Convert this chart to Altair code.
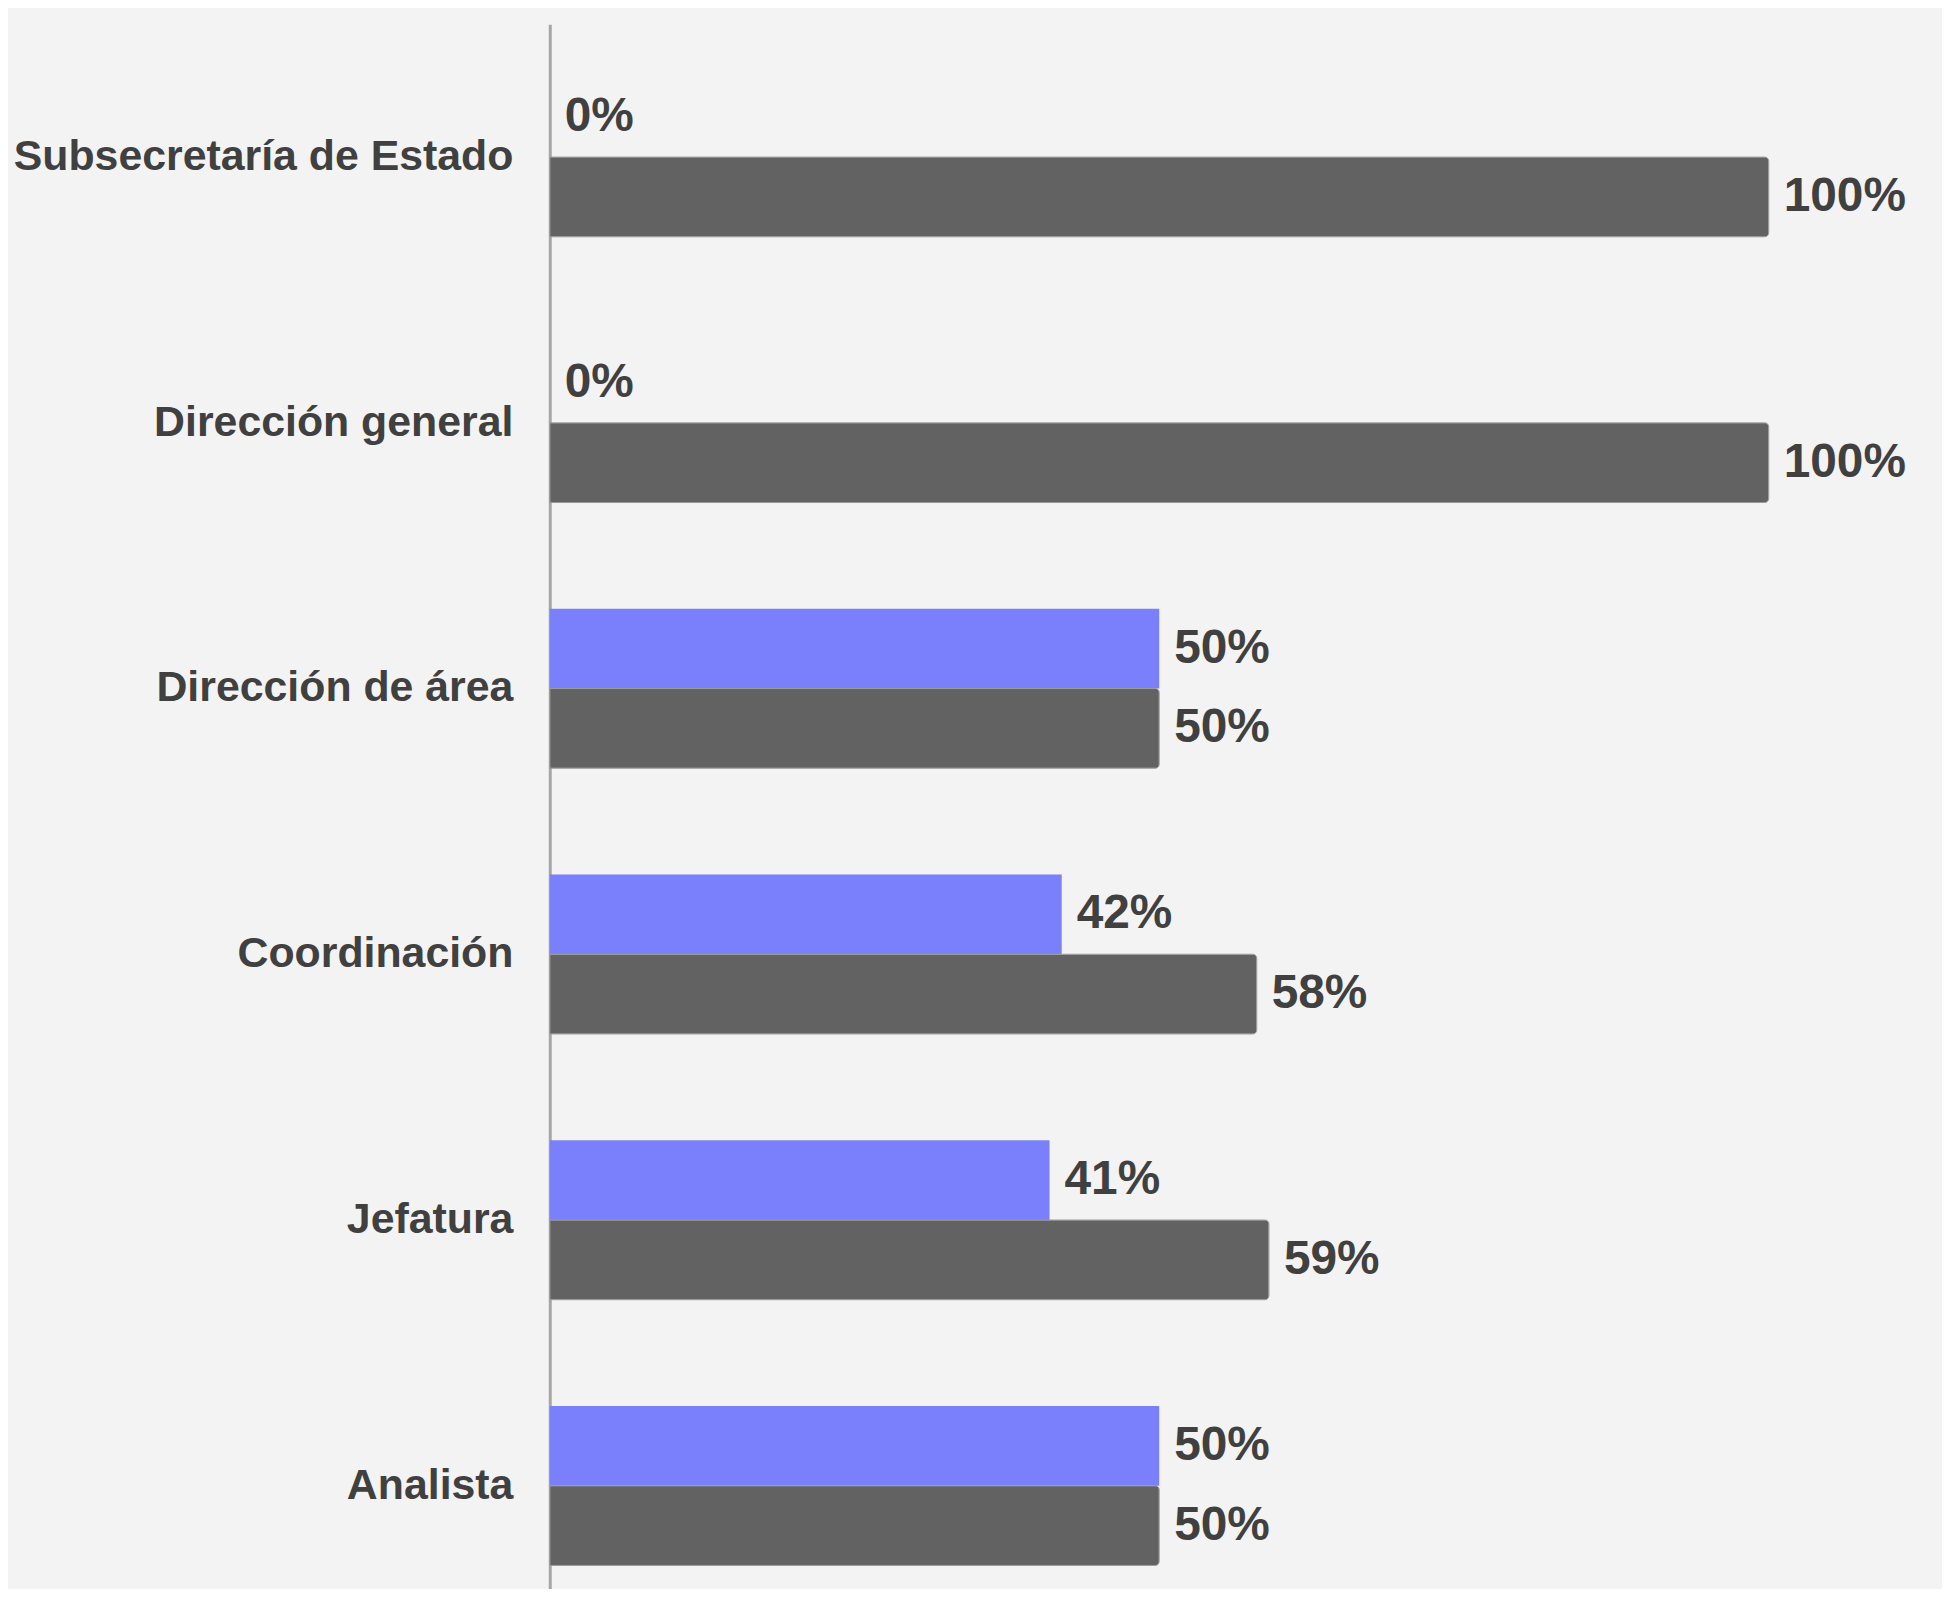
import altair as alt
import pandas as pd

categories = ["Subsecretaría de Estado", "Dirección general", "Dirección de área",
              "Coordinación ", "Jefatura ", "Analista"]
serie_azul = [0, 0, 50, 42, 41, 50]
serie_gris = [100, 100, 50, 58, 59, 50]
series = ["Serie azul", "Serie gris"]
colors = ["#7a80fb", "#626262"]

rows = []
for c, a, g in zip(categories, serie_azul, serie_gris):
    rows.append({"cat": c, "serie": series[0], "valor": a})
    rows.append({"cat": c, "serie": series[1], "valor": g})
df = pd.DataFrame(rows)
df["etiqueta"] = df["valor"].astype(str) + "%"

FONT = "Liberation Sans"

y = alt.Y(
    "cat:N", sort=categories,
    scale=alt.Scale(range=[0, 1601], paddingInner=0.4, paddingOuter=0.2),
    axis=alt.Axis(title=None, ticks=False, grid=False, domainColor="#a6a6a6", domainWidth=3,
                  labelFont=FONT, labelFontSize=43, labelFontWeight="bold",
                  labelColor="#404040", labelPadding=37, labelLimit=0),
)
yoff = alt.YOffset("serie:N", sort=series, scale=alt.Scale(paddingInner=0, paddingOuter=0))
x = alt.X("valor:Q", scale=alt.Scale(domain=[0, 100]), axis=None)

base = alt.Chart(df)

blue = base.transform_filter(
    (alt.datum.serie == series[0]) & (alt.datum.valor > 0)
).mark_bar(color=colors[0]).encode(x=x, y=y, yOffset=yoff)

gray = base.transform_filter(alt.datum.serie == series[1]).mark_bar(
    color=colors[1], cornerRadiusEnd=4, stroke="#9a9a9a", strokeWidth=1
).encode(x=x, y=y, yOffset=yoff)

labels = base.mark_text(
    align="left", baseline="middle", dx=15, font=FONT, fontSize=48,
    fontWeight="bold", color="#404040"
).encode(x=x, y=y, yOffset=yoff, text="etiqueta:N")

chart = alt.layer(blue, gray, labels).properties(
    width=1224, height=1568,
    autosize=alt.AutoSizeParams(type="none"),
    padding={"left": 544, "top": 13, "right": 174, "bottom": 0},
    background="#f3f3f3",
).configure_view(stroke=None)

chart.save("out.html", embed_options={"renderer": "svg", "actions": False})
